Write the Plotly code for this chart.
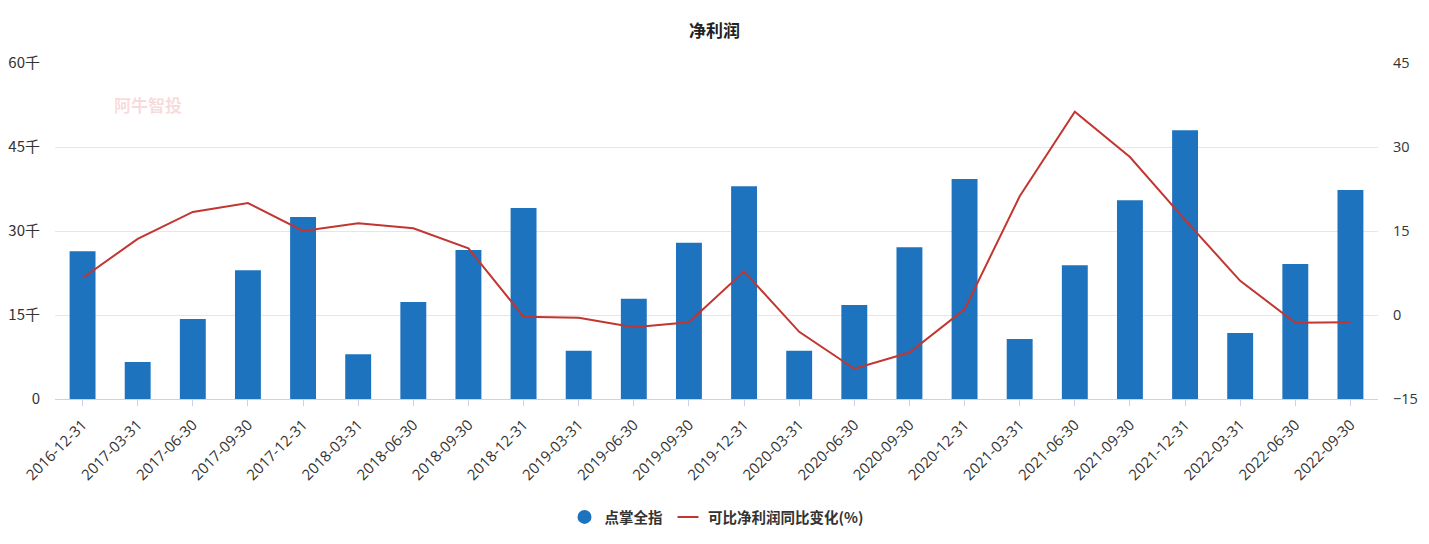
import plotly.graph_objects as go

categories = ["2016-12-31", "2017-03-31", "2017-06-30", "2017-09-30", "2017-12-31",
              "2018-03-31", "2018-06-30", "2018-09-30", "2018-12-31", "2019-03-31",
              "2019-06-30", "2019-09-30", "2019-12-31", "2020-03-31", "2020-06-30",
              "2020-09-30", "2020-12-31", "2021-03-31", "2021-06-30", "2021-09-30",
              "2021-12-31", "2022-03-31", "2022-06-30", "2022-09-30"]

# 净利润 (千)
net_profit = [26.4, 6.6, 14.3, 23.0, 32.5, 8.0, 17.3, 26.6, 34.1, 8.6,
              17.9, 27.9, 38.0, 8.6, 16.8, 27.1, 39.3, 10.7, 23.9, 35.5,
              48.0, 11.8, 24.1, 37.3]

# 可比净利润同比变化(%)
yoy_change = [6.6, 13.6, 18.4, 20.0, 15.0, 16.4, 15.5, 11.9, -0.3, -0.5,
              -2.2, -1.3, 7.8, -3.0, -9.6, -6.7, 1.0, 21.2, 36.3, 28.2,
              17.0, 6.1, -1.4, -1.3]

left_tickvals = [0, 15, 30, 45, 60]
left_ticktext = ["0", "15千", "30千", "45千", "60千"]
right_tickvals = [-15, 0, 15, 30, 45]

bar_name = "点掌全指"
line_name = "可比净利润同比变化(%)"
title_text = "净利润"

FONT = "Noto Sans CJK SC, Microsoft YaHei, sans-serif"
TICK_FONT = "Open Sans, Noto Sans CJK SC, sans-serif"
BAR_COLOR = "#1e73be"
LINE_COLOR = "#c23531"

fig = go.Figure()
fig.add_trace(go.Bar(
    x=categories, y=net_profit, name=bar_name, marker=dict(color=BAR_COLOR, line=dict(width=0)),
    showlegend=False, yaxis="y"
))
fig.add_trace(go.Scatter(
    x=categories, y=yoy_change, name=line_name, mode="lines",
    line=dict(color=LINE_COLOR, width=2), yaxis="y2", showlegend=False
))
# legend-only entries (circle for bars, short dash for line)
fig.add_trace(go.Scatter(
    x=[None], y=[None], mode="markers", name=bar_name,
    marker=dict(color=BAR_COLOR, size=14, symbol="circle"), showlegend=True
))
fig.add_trace(go.Scatter(
    x=[None], y=[None], mode="markers", name=line_name,
    marker=dict(color=LINE_COLOR, size=15, symbol="line-ew", line=dict(color=LINE_COLOR, width=2)),
    showlegend=True
))

fig.update_layout(
    width=1429, height=544,
    margin=dict(l=55, r=51, t=63, b=145, autoexpand=False),
    paper_bgcolor="white", plot_bgcolor="white",
    font=dict(family=FONT, size=13, color="#333"),
    title=dict(text=title_text, x=0.5, xanchor="center", y=1 - 31 / 544, yanchor="middle",
               font=dict(size=17, color="#222", family=FONT, weight="bold")),
    bargap=0.53,
    showlegend=True,
    legend=dict(orientation="h", x=0.5, xanchor="center", y=(399 - 517) / 336, yanchor="middle",
                font=dict(size=14.5, color="#333", family=FONT, weight="bold"),
                itemwidth=30, traceorder="normal"),
    xaxis=dict(
        type="category", showgrid=False, showline=True, linecolor="#c8d3e6", linewidth=1,
        ticks="outside", ticklen=6, tickcolor="#c8d3e6", tickangle=-45,
        tickfont=dict(size=15, color="#333", family=TICK_FONT), zeroline=False,
        ticklabelstandoff=4, automargin=False,
    ),
    yaxis=dict(
        range=[0, 60], tickvals=left_tickvals, ticktext=left_ticktext,
        showgrid=True, gridcolor="#e6e6e6", gridwidth=1, zeroline=False, showline=False,
        tickfont=dict(size=15, color="#333", family=FONT), ticklabelstandoff=14,
        automargin=False,
    ),
    yaxis2=dict(
        range=[-15, 45], tickvals=right_tickvals, overlaying="y", side="right",
        showgrid=False, zeroline=False, showline=False,
        tickfont=dict(size=14.5, color="#333", family=TICK_FONT), ticklabelstandoff=14,
        automargin=False,
    ),
    annotations=[dict(
        text="阿牛智投", xref="paper", yref="paper", x=(148 - 55) / 1323, y=(399 - 104) / 336,
        xanchor="center", yanchor="middle", showarrow=False,
        font=dict(size=17, color="rgba(230,110,110,0.25)", family=FONT, weight="bold"),
    )],
)

fig.write_html("out.html")
